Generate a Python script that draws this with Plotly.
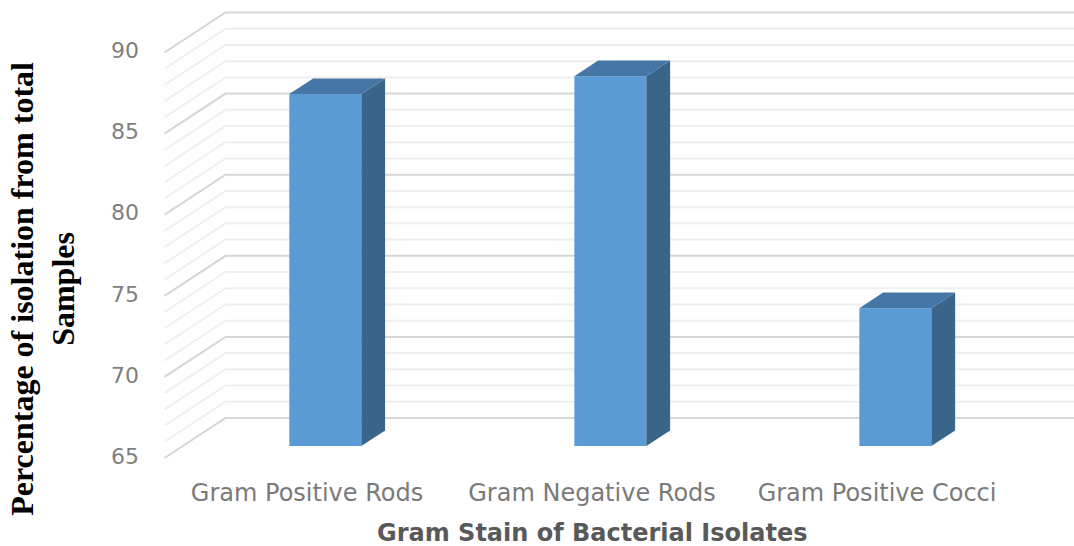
import plotly.graph_objects as go

categories = ["Gram Positive Rods", "Gram Negative Rods", "Gram Positive Cocci"]
values = [86.7, 87.8, 73.5]
y_ticks = [65, 70, 75, 80, 85, 90]
x_title = "Gram Stain of Bacterial Isolates"
y_title = "Percentage of isolation from total<br>Samples"

# Oblique projection expressed in axis units
WALL_DX = 0.214
WALL_DY = 2.466
BAR_FRONT = 0.30
BAR_DEPTH = 0.39
BAR_WIDTH = 0.2526
X_LEFT, X_RIGHT = -0.5, 2.5

fig = go.Figure()
positions = list(range(len(categories)))

# Front faces
fig.add_trace(go.Bar(
    x=[p + BAR_FRONT * WALL_DX for p in positions],
    y=[v - 65 for v in values],
    base=65 + BAR_FRONT * WALL_DY,
    width=BAR_WIDTH,
    marker=dict(color="#5B9BD5", line=dict(width=0)),
    hoverinfo="skip",
))

# Side and top faces
for p, v in zip(positions, values):
    x0 = p + BAR_FRONT * WALL_DX - BAR_WIDTH / 2
    x1 = x0 + BAR_WIDTH
    y0 = 65 + BAR_FRONT * WALL_DY
    y1 = v + BAR_FRONT * WALL_DY
    ddx = BAR_DEPTH * WALL_DX
    ddy = BAR_DEPTH * WALL_DY
    fig.add_trace(go.Scatter(
        x=[x1, x1 + ddx, x1 + ddx, x1, x1],
        y=[y0, y0 + ddy, y1 + ddy, y1, y0],
        mode="lines", fill="toself", fillcolor="#39658A",
        line=dict(width=0), hoverinfo="skip",
    ))
    fig.add_trace(go.Scatter(
        x=[x0, x0 + ddx, x1 + ddx, x1, x0],
        y=[y1, y1 + ddy, y1 + ddy, y1, y1],
        mode="lines", fill="toself", fillcolor="#4576A5",
        line=dict(width=0), hoverinfo="skip",
    ))

# Gridlines folded over side wall and back wall
shapes = []
for level in range(65, 91):
    major = level % 5 == 0
    shapes.append(dict(
        type="path", layer="below", xref="x", yref="y",
        path=(f"M {X_LEFT},{level} L {X_LEFT + WALL_DX},{level + WALL_DY} "
              f"L {X_RIGHT + WALL_DX},{level + WALL_DY}"),
        line=dict(color="#D6D6D6" if major else "#EFEFEF", width=2),
    ))

fig.update_layout(
    width=1074, height=546,
    margin=dict(l=140, r=0, t=0, b=76),
    paper_bgcolor="white", plot_bgcolor="white",
    showlegend=False, shapes=shapes,
    font=dict(family="DejaVu Sans", color="#7F7F7F"),
    xaxis=dict(
        range=[-0.586, 2.691], tickmode="array",
        tickvals=positions, ticktext=categories,
        showgrid=False, zeroline=False, showline=False, ticks="",
        ticklabelstandoff=6,
        tickfont=dict(family="DejaVu Sans", size=24, color="#7A7A7A"),
    ),
    yaxis=dict(
        range=[64.26, 93.237], tickmode="array", tickvals=y_ticks,
        showgrid=False, zeroline=False, showline=False, ticks="",
        ticklabelshift=-2,
        tickfont=dict(family="DejaVu Sans", size=22, color="#7F7F7F"),
    ),
    annotations=[
        dict(text=x_title, xref="x", yref="paper", x=1, y=-0.134,
             yanchor="middle", showarrow=False,
             font=dict(family="DejaVu Sans", size=24, color="#595959", weight="bold")),
        dict(text=y_title, xref="paper", yref="y", x=-0.104, xanchor="center", y=75.42,
             yanchor="middle", textangle=-90, showarrow=False, align="center",
             font=dict(family="Liberation Serif", size=32, color="black", weight="bold")),
    ],
)

fig.write_html("out.html", post_script="document.body.style.margin='0';",
               config={"displayModeBar": False})
